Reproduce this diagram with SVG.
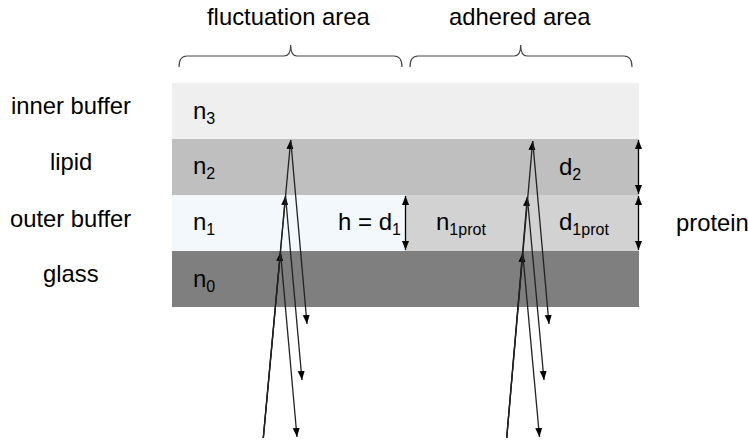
<svg xmlns="http://www.w3.org/2000/svg" width="748" height="441" viewBox="0 0 748 441">
<style>
  .lbl { font-family: "Liberation Sans", Arial, sans-serif; font-size: 23.8px; fill: #000; }
  .sym { font-family: "Liberation Sans", Arial, sans-serif; font-size: 24px; fill: #000; }
  .sub { font-size: 16px; }
  .ray { stroke: #222; stroke-width: 1.3; fill: none; marker-end: url(#ah); }
  .dim { stroke: #000; stroke-width: 1.3; fill: none; marker-start: url(#ah2); marker-end: url(#ah2); }
  .brace { stroke: #444; stroke-width: 1.2; fill: none; }
</style>
<defs>
  <marker id="ah" markerUnits="userSpaceOnUse" markerWidth="10" markerHeight="8" refX="9" refY="3.5" orient="auto">
    <path d="M0,0 L9,3.5 L0,7 z" fill="#000"/>
  </marker>
  <marker id="ah2" markerUnits="userSpaceOnUse" markerWidth="10" markerHeight="8" refX="9" refY="3.5" orient="auto-start-reverse">
    <path d="M0,0 L9,3.5 L0,7 z" fill="#000"/>
  </marker>
</defs>
<rect width="748" height="441" fill="#fff"/>

<g id="layers">
  <rect id="layer-n3" x="172" y="83" width="467" height="56" fill="#efefef"/>
  <rect id="layer-n2" x="172" y="139" width="467" height="56" fill="#bfbfbf"/>
  <rect id="layer-n1" x="172" y="195" width="233" height="56" fill="#f3f8fd"/>
  <rect id="layer-n1prot" x="405" y="195" width="234" height="56" fill="#d2d2d2"/>
  <rect id="layer-n0" x="172" y="251" width="467" height="56" fill="#7f7f7f"/>
</g>

<g id="side-labels">
  <text class="lbl" x="11" y="114">inner buffer</text>
  <text class="lbl" x="50" y="170">lipid</text>
  <text class="lbl" x="10" y="227">outer buffer</text>
  <text class="lbl" x="43" y="282">glass</text>
  <text class="lbl" x="676" y="231">protein</text>
</g>

<g id="area-labels">
  <text class="lbl" x="207" y="25">fluctuation area</text>
  <text class="lbl" x="449" y="25">adhered area</text>
  <path class="brace" d="M179,67 Q179,56 187,56 L284,56 Q290.7,56 290.7,45 Q290.7,56 297,56 L394,56 Q402,56 402,67"/>
  <path class="brace" d="M410,67 Q410,56 418,56 L514,56 Q520.7,56 520.7,45 Q520.7,56 527,56 L624,56 Q632,56 632,67"/>
</g>

<g id="layer-labels">
  <text class="sym" x="193" y="119">n<tspan class="sub" dy="5">3</tspan></text>
  <text class="sym" x="193" y="174">n<tspan class="sub" dy="5">2</tspan></text>
  <text class="sym" x="193" y="230">n<tspan class="sub" dy="5">1</tspan></text>
  <text class="sym" x="193" y="287">n<tspan class="sub" dy="5">0</tspan></text>
  <text class="sym" x="338" y="230">h = d<tspan class="sub" dy="5">1</tspan></text>
  <text class="sym" x="436" y="230">n<tspan class="sub" dy="5">1prot</tspan></text>
  <text class="sym" x="559" y="175">d<tspan class="sub" dy="5">2</tspan></text>
  <text class="sym" x="559" y="230">d<tspan class="sub" dy="5">1prot</tspan></text>
</g>

<g id="connectors">
  <line class="dim" x1="405.5" y1="196" x2="405.5" y2="250"/>
  <line class="dim" x1="638.5" y1="140" x2="638.5" y2="194"/>
  <line class="dim" x1="638.5" y1="196" x2="638.5" y2="250"/>

  <line class="ray" x1="263.3" y1="438" x2="280.5" y2="252"/>
  <line class="ray" x1="263.3" y1="438" x2="285.5" y2="196"/>
  <line class="ray" x1="263.3" y1="438" x2="290.7" y2="140"/>
  <line class="ray" x1="280.5" y1="252" x2="297" y2="437"/>
  <line class="ray" x1="285.5" y1="196" x2="302" y2="380"/>
  <line class="ray" x1="290.7" y1="140" x2="307" y2="324"/>

  <line class="ray" x1="506.7" y1="438" x2="522.7" y2="253"/>
  <line class="ray" x1="506.7" y1="438" x2="527.3" y2="197"/>
  <line class="ray" x1="506.7" y1="438" x2="532.7" y2="141"/>
  <line class="ray" x1="522.7" y1="253" x2="539.5" y2="437"/>
  <line class="ray" x1="527.3" y1="197" x2="544" y2="380"/>
  <line class="ray" x1="532.7" y1="141" x2="549" y2="324"/>
</g>
</svg>
